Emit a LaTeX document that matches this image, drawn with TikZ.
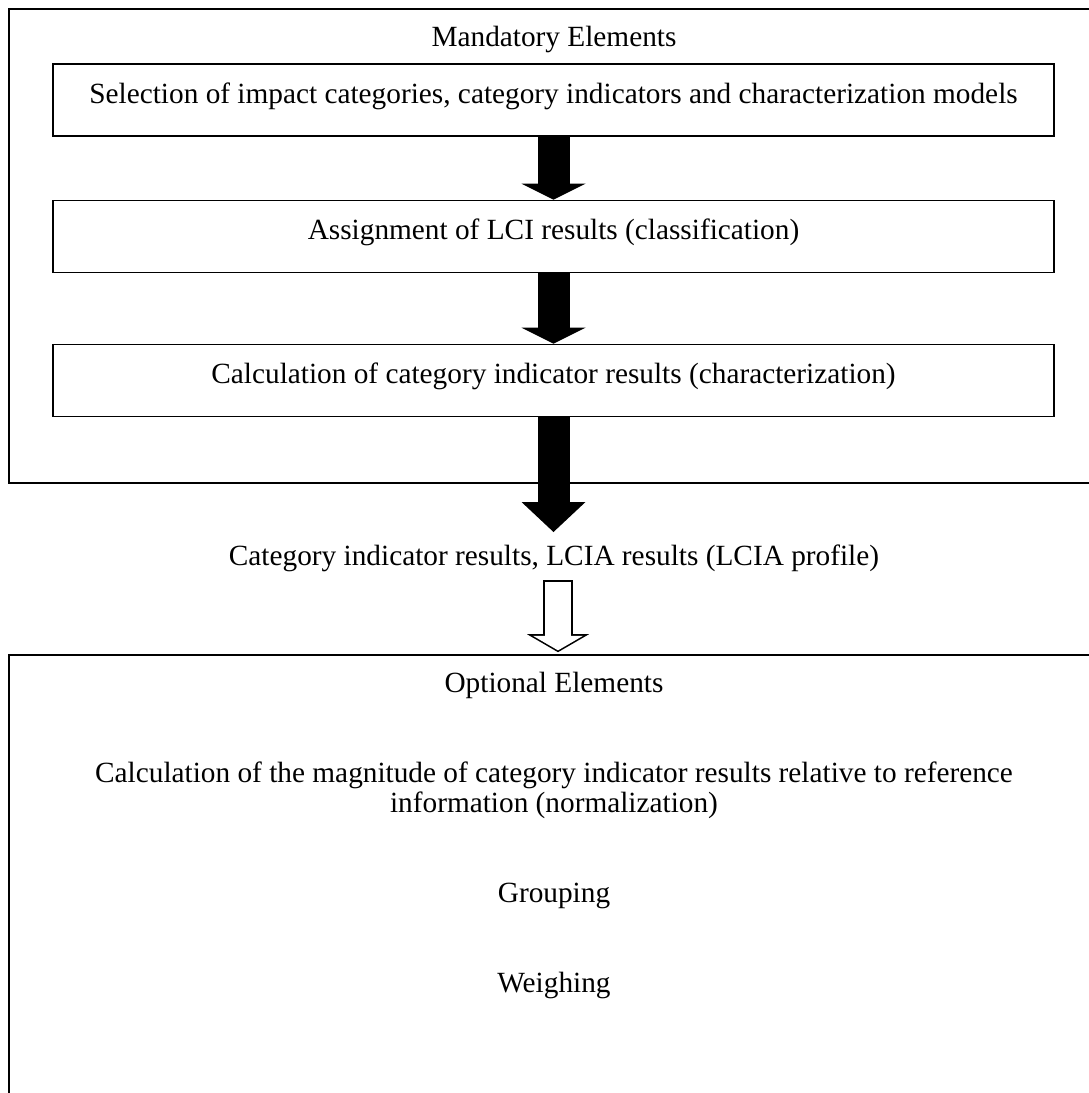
\documentclass[tikz,border=0pt]{standalone}
\usepackage{fontspec}
\setmainfont{Liberation Serif}
\usetikzlibrary{arrows.meta}

\begin{document}
\begin{tikzpicture}[x=1pt,y=-1pt]
  \tikzset{frame/.style={draw=black,line width=1.6pt,minimum width=1091pt,inner sep=0pt}}
  \tikzset{stepbox/.style={draw=black,line width=1.6pt,minimum width=1001pt,minimum height=72pt,inner sep=0pt,text height=16pt,text depth=10pt,font=\fontsize{29.3}{30}\selectfont}}
  \tikzset{plaintext/.style={inner sep=0pt,font=\fontsize{29.3}{30}\selectfont,align=center}}
  \tikzset{fatarrow/.style={draw=black,line width=32pt}}
  \useasboundingbox (0,0) rectangle (1089,1093);
  \clip (0,0) rectangle (1089,1093);
  \node[frame,minimum height=474pt] (mandatory) at (554.5,246) {};
  \node[frame,minimum height=455pt] (optional) at (554.5,882.5) {};
  \node[plaintext,anchor=base] (mandtitle) at (554,46) {Mandatory Elements};
  \node[stepbox] (selection) at (553.5,100) {Selection of impact categories, category indicators and characterization models};
  \node[stepbox] (assignment) at (553.5,236.5) {Assignment of LCI results (classification)};
  \node[stepbox] (calculation) at (553.5,380.5) {Calculation of category indicator results (characterization)};
  \node[plaintext,anchor=base] (results) at (554,565) {Category indicator results, LCIA results (LCIA profile)};
  \node[plaintext,anchor=base] (opttitle) at (554,692) {Optional Elements};
  \node[plaintext] (normalization) at (554,790) {Calculation of the magnitude of category indicator results relative to reference\\information (normalization)};
  \node[plaintext,anchor=base] (grouping) at (554,902) {Grouping};
  \node[plaintext,anchor=base] (weighing) at (554,992) {Weighing};
  \coordinate (profiletip) at (553.5,532);
  \coordinate (hollowtop) at (558,580);
  \draw[fatarrow,-{Triangle[width=64pt,length=16pt,line width=0pt]}] (selection) -- (assignment);
  \draw[fatarrow,-{Triangle[width=64pt,length=16pt,line width=0pt]}] (assignment) -- (calculation);
  \draw[fatarrow,-{Triangle[width=64pt,length=30pt,line width=0pt]}] (calculation) -- (profiletip);
  \draw[line width=30pt,-{Triangle[width=62pt,length=18pt,line width=0pt]},shorten >=2pt] (hollowtop) -- (hollowtop |- optional.north);
  \draw[white,line width=26.8pt,-{Triangle[width=50.1pt,length=14.55pt,line width=0pt]},shorten <=1.6pt,shorten >=3.85pt] (hollowtop) -- (hollowtop |- optional.north);
\end{tikzpicture}
\end{document}
